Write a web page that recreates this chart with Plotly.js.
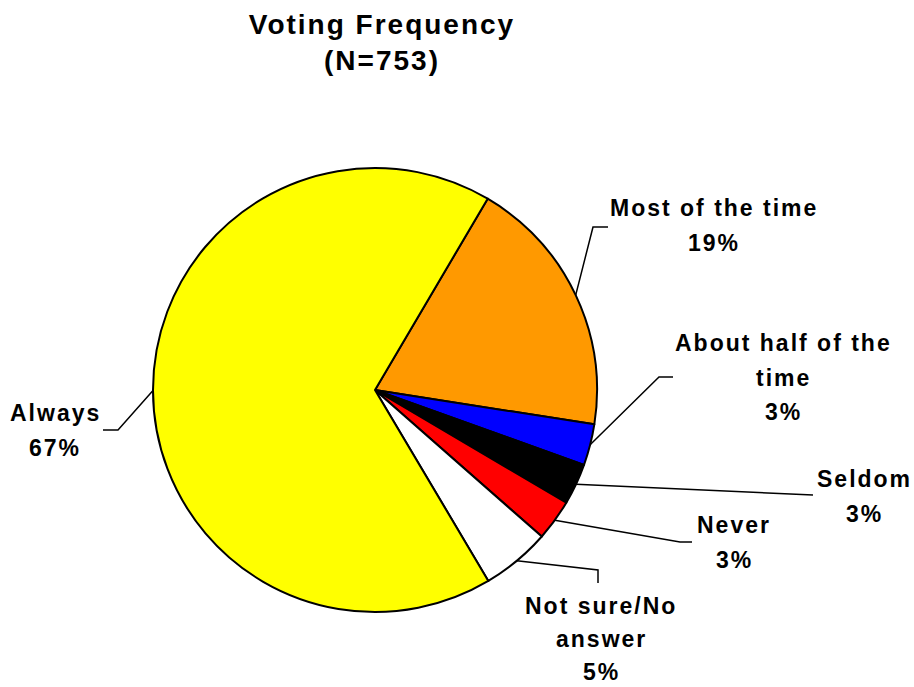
<!DOCTYPE html>
<html>
<head>
<meta charset="utf-8">
<script src="https://cdn.plot.ly/plotly-3.0.1.min.js"></script>
<style>
  html, body { margin: 0; padding: 0; background: #fff; }
  #chart { width: 914px; height: 687px; }
  .gtitle, .annotation-text { letter-spacing: 2px; }
</style>
</head>
<body>
<div id="chart"></div>
<script>
// ---- data ----
const categories = ['Most of the time', 'About half of the time', 'Seldom', 'Never', 'Not sure/No answer', 'Always'];
const values = [19, 3, 3, 3, 5, 67];
const labelLines = [
  ['Most of the time'],
  ['About half of the', 'time'],
  ['Seldom'],
  ['Never'],
  ['Not sure/No', 'answer'],
  ['Always']
];
const sliceColors = ['#FF9900', '#0000FF', '#000000', '#FF0000', '#FFFFFF', '#FFFF00'];

// ---- layout constants (pixels) ----
const W = 914, H = 687;
const CX = 375, CY = 390, R = 222;
const ROT = 30.5;
const FONT = 'Liberation Sans, Arial, sans-serif';
// label placement: center x, first line center y, line gap
const labelPos = [
  [714, 207, 35], [783, 342, 34.5], [864, 478, 34.5], [734, 524, 35], [601, 605, 33], [55, 412, 35]
];
// leader line bends / ends after the slice start point
const leaderPts = [
  [[593, 227], [608, 227]],
  [[659, 377], [673, 377]],
  [[813, 495]],
  [[680, 542], [692, 542]],
  [[598, 570], [598, 583]],
  [[118, 430], [103, 430]]
];

const px = (x) => x / W;
const py = (y) => 1 - y / H;

const total = values.reduce((a, b) => a + b, 0);
const annotations = [];
const shapes = [];
let cum = 0;
values.forEach((v, i) => {
  const mid = (ROT + 360 * (cum + v / 2) / total) * Math.PI / 180;
  cum += v;
  const sx = CX + R * Math.sin(mid);
  const sy = CY - R * Math.cos(mid);
  let path = 'M ' + px(sx) + ' ' + py(sy);
  leaderPts[i].forEach(p => { path += ' L ' + px(p[0]) + ' ' + py(p[1]); });
  shapes.push({
    type: 'path', xref: 'paper', yref: 'paper', path: path,
    line: { color: '#000', width: 1.5 }
  });
  const lines = labelLines[i].concat([v + '%']);
  lines.forEach((t, k) => {
    annotations.push({
      xref: 'paper', yref: 'paper',
      x: px(labelPos[i][0]), y: py(labelPos[i][1] + k * labelPos[i][2] + 1),
      xanchor: 'center', yanchor: 'middle',
      text: '<b>' + t + '</b>', showarrow: false,
      font: { family: FONT, size: 23, color: '#000' }
    });
  });
});

const trace = {
  type: 'pie',
  labels: categories,
  values: values,
  sort: false,
  direction: 'clockwise',
  rotation: ROT,
  marker: { colors: sliceColors, line: { color: '#000', width: 2 } },
  textinfo: 'none',
  hoverinfo: 'label+percent',
  showlegend: false,
  domain: {
    x: [px(CX - R), px(CX + R)],
    y: [py(CY + R), py(CY - R)]
  }
};

const layout = {
  width: W, height: H,
  margin: { l: 0, r: 0, t: 0, b: 0 },
  paper_bgcolor: '#fff',
  showlegend: false,
  title: {
    text: '<b>Voting Frequency</b><br><b>(N=753)</b>',
    x: 382 / W, xanchor: 'center', xref: 'paper',
    y: 1 - 34 / H, yanchor: 'top', yref: 'container',
    font: { family: FONT, size: 28, color: '#000' }
  },
  annotations: annotations,
  shapes: shapes
};

Plotly.newPlot('chart', [trace], layout, { displayModeBar: false, staticPlot: true });
</script>
</body>
</html>
